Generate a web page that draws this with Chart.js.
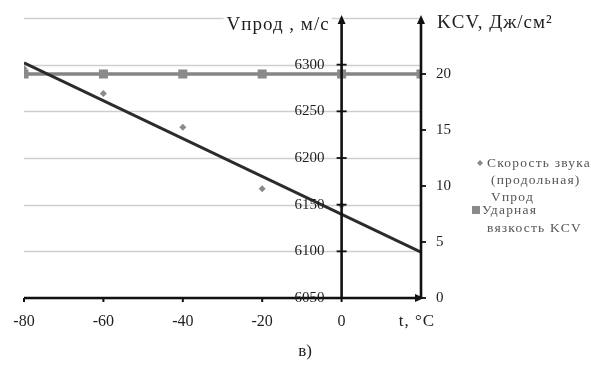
<!DOCTYPE html>
<html>
<head>
<meta charset="utf-8">
<script src="https://cdn.jsdelivr.net/npm/chart.js@4"></script>
<style>
  html, body { margin: 0; padding: 0; background: #fff; }
  #wrap { position: relative; width: 591px; height: 374px; }
</style>
</head>
<body>
<div id="wrap"><canvas id="c" width="591" height="374"></canvas></div>
<script>
// Temperatures, °C
const temps = [-80, -60, -40, -20, 0];
// Longitudinal sound velocity, m/s
const speed = [6296, 6269, 6233, 6167, 6149];
// Impact toughness KCV, J/cm²
const kcvTemps = [-80, -60, -40, -20, 0, 20];
const kcv = [20, 20, 20, 20, 20, 20];
// Linear trend of the velocity (end points)
const trendTemps = [-80, 20];
const trendSpeed = [6302, 6099];
// Axis ticks
const xTicks = [-80, -60, -40, -20, 0];
const speedTicks = [6050, 6100, 6150, 6200, 6250, 6300];
const kcvTicks = [0, 5, 10, 15, 20];
const gridValues = [6050, 6100, 6150, 6200, 6250, 6300, 6350];

const SERIF = '"Liberation Serif", "DejaVu Serif", serif';
const INK = '#1e1e1e';

function arrowHead(ctx, x, y, dir) {
  ctx.beginPath();
  if (dir === 'up') {
    ctx.moveTo(x, y - 3);
    ctx.lineTo(x - 4, y + 6);
    ctx.lineTo(x + 4, y + 6);
  } else {
    ctx.moveTo(x + 3, y);
    ctx.lineTo(x - 6, y - 4);
    ctx.lineTo(x - 6, y + 4);
  }
  ctx.closePath();
  ctx.fill();
}

function spacing(ctx, px) {
  if ('letterSpacing' in ctx) ctx.letterSpacing = px + 'px';
}

const decor = {
  id: 'decor',
  beforeDatasetsDraw(chart) {
    const { ctx, chartArea: a, scales: { y } } = chart;
    ctx.save();
    ctx.strokeStyle = '#cfcfcf';
    ctx.lineWidth = 1.3;
    gridValues.forEach(v => {
      const py = Math.round(y.getPixelForValue(v)) + 0.5;
      ctx.beginPath();
      ctx.moveTo(a.left, py);
      ctx.lineTo(a.right, py);
      ctx.stroke();
    });
    ctx.restore();
  },
  afterDraw(chart) {
    const { ctx, chartArea: a, scales: { x, y, y2 } } = chart;
    const x0 = x.getPixelForValue(0);
    const x20 = x.getPixelForValue(20);
    const yb = y.getPixelForValue(6050);
    ctx.save();
    ctx.strokeStyle = '#111';
    ctx.fillStyle = '#111';
    ctx.lineWidth = 2.6;

    // horizontal axis
    ctx.beginPath();
    ctx.moveTo(a.left, yb);
    ctx.lineTo(x20 - 3, yb);
    ctx.stroke();
    arrowHead(ctx, x20, yb, 'right');
    ctx.lineWidth = 2;
    xTicks.forEach(v => {
      const px = x.getPixelForValue(v);
      ctx.beginPath();
      ctx.moveTo(px, yb);
      ctx.lineTo(px, yb + 4);
      ctx.stroke();
    });

    // velocity axis at t = 0
    ctx.lineWidth = 2.6;
    ctx.beginPath();
    ctx.moveTo(x0, yb);
    ctx.lineTo(x0, a.top + 3);
    ctx.stroke();
    arrowHead(ctx, x0, a.top, 'up');
    ctx.lineWidth = 1.8;
    speedTicks.forEach(v => {
      const py = y.getPixelForValue(v);
      ctx.beginPath();
      ctx.moveTo(x0 - 5, py);
      ctx.lineTo(x0 + 5, py);
      ctx.stroke();
    });

    // KCV axis at t = 20
    ctx.lineWidth = 2.6;
    ctx.beginPath();
    ctx.moveTo(x20, yb);
    ctx.lineTo(x20, a.top + 3);
    ctx.stroke();
    arrowHead(ctx, x20, a.top, 'up');
    ctx.lineWidth = 1.8;
    kcvTicks.forEach(v => {
      const py = y2.getPixelForValue(v);
      ctx.beginPath();
      ctx.moveTo(x20, py);
      ctx.lineTo(x20 + 5, py);
      ctx.stroke();
    });

    // tick labels
    ctx.fillStyle = INK;
    ctx.font = '16px ' + SERIF;
    ctx.textBaseline = 'middle';
    ctx.textAlign = 'center';
    xTicks.forEach(v => ctx.fillText(String(v), x.getPixelForValue(v), yb + 24));
    spacing(ctx, 1);
    ctx.font = '17px ' + SERIF;
    ctx.fillText('t, °C', x20 - 4, yb + 24);
    spacing(ctx, 0);
    ctx.font = '15px ' + SERIF;
    ctx.textAlign = 'right';
    speedTicks.forEach(v => ctx.fillText(String(v), x0 - 17, y.getPixelForValue(v)));
    ctx.textAlign = 'left';
    kcvTicks.forEach(v => ctx.fillText(String(v), x20 + 15, y2.getPixelForValue(v)));

    // axis titles
    ctx.font = '19px ' + SERIF;
    spacing(ctx, 1);
    ctx.textAlign = 'right';
    const t1 = 'Vпрод , м/с';
    const w1 = ctx.measureText(t1).width;
    ctx.fillStyle = '#fff';
    ctx.fillRect(x0 - 12 - w1 - 3, a.top - 4, w1 + 5, 18);
    ctx.fillStyle = INK;
    ctx.fillText(t1, x0 - 12, a.top + 7);
    ctx.textAlign = 'left';
    ctx.fillText('KCV, Дж/см²', x20 + 16, a.top + 5);

    // legend
    ctx.font = '13.5px ' + SERIF;
    spacing(ctx, 1.2);
    const lx = 480;
    ctx.fillStyle = '#8a8a8a';
    ctx.beginPath();
    ctx.moveTo(lx, 160); ctx.lineTo(lx + 3, 163); ctx.lineTo(lx, 166); ctx.lineTo(lx - 3, 163);
    ctx.closePath(); ctx.fill();
    ctx.fillRect(lx - 8, 206, 8, 8);
    ctx.fillStyle = '#555';
    ctx.fillText('Скорость звука', lx + 7, 163);
    ctx.fillText('(продольная)', lx + 11, 180);
    ctx.fillText('Vпрод', lx + 11, 197);
    ctx.fillText('Ударная', lx + 2, 210);
    ctx.fillText('вязкость KCV', lx + 7, 228);

    // caption
    spacing(ctx, 0);
    ctx.fillStyle = '#222';
    ctx.font = '17px ' + SERIF;
    ctx.textAlign = 'center';
    ctx.fillText('в)', 305, 352);
    ctx.restore();
  }
};

new Chart(document.getElementById('c'), {
  type: 'scatter',
  data: {
    datasets: [
      {
        label: 'Линейная (Vпрод)',
        data: trendTemps.map((t, i) => ({ x: t, y: trendSpeed[i] })),
        showLine: true,
        borderColor: '#2b2b2b',
        borderWidth: 3,
        pointRadius: 0,
        yAxisID: 'y',
        order: 0
      },
      {
        label: 'Скорость звука (продольная) Vпрод',
        data: temps.map((t, i) => ({ x: t, y: speed[i] })),
        pointStyle: 'rectRot',
        pointRadius: 3.5,
        backgroundColor: '#8a8a8a',
        borderColor: '#8a8a8a',
        borderWidth: 0,
        yAxisID: 'y',
        order: 1
      },
      {
        label: 'Ударная вязкость KCV',
        data: kcvTemps.map((t, i) => ({ x: t, y: kcv[i] })),
        showLine: true,
        borderColor: '#858585',
        borderWidth: 3.5,
        pointStyle: 'rect',
        pointRadius: 6.4,
        backgroundColor: '#8a8a8a',
        pointBorderWidth: 0,
        yAxisID: 'y2',
        order: 2
      }
    ]
  },
  options: {
    responsive: false,
    animation: false,
    events: [],
    layout: { padding: { left: 24, right: 170, top: 18, bottom: 76 } },
    plugins: { legend: { display: false }, tooltip: { enabled: false } },
    scales: {
      x: { type: 'linear', min: -80, max: 20, display: false },
      y: { type: 'linear', min: 6050, max: 6350, display: false },
      y2: { type: 'linear', min: 0, max: 25, display: false }
    }
  },
  plugins: [decor]
});
</script>
</body>
</html>
